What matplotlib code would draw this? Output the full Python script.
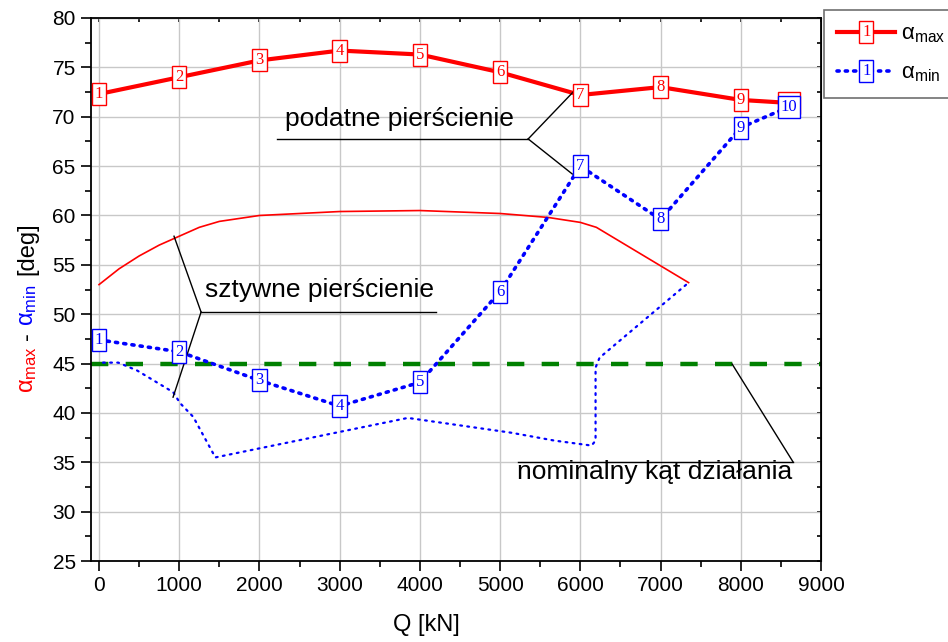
import matplotlib
matplotlib.use('Agg')
import matplotlib.pyplot as plt
import numpy as np
from matplotlib.ticker import MultipleLocator
from matplotlib.legend_handler import HandlerLine2D
from matplotlib.lines import Line2D
from matplotlib.text import Text

plt.rcParams['font.family'] = 'Liberation Sans'
plt.rcParams['mathtext.fontset'] = 'custom'
plt.rcParams['mathtext.rm'] = 'Liberation Sans'
plt.rcParams['mathtext.it'] = 'Liberation Sans'
plt.rcParams['mathtext.default'] = 'regular'

# podatne pierscienie - numbered points
q_pts = [0, 1000, 2000, 3000, 4000, 5000, 6000, 7000, 8000, 8600]
a_max = [72.3, 74.0, 75.7, 76.7, 76.3, 74.5, 72.2, 73.0, 71.7, 71.4]
a_min = [47.4, 46.2, 43.3, 40.7, 43.1, 52.3, 65.0, 59.6, 68.9, 71.0]
pt_labels = ['1', '2', '3', '4', '5', '6', '7', '8', '9', '10']

# sztywne pierscienie - thin curves
q_sz_max = [0, 250, 500, 750, 1000, 1250, 1500, 2000, 3000, 4000, 5000, 5600, 6000, 6200, 7350]
a_sz_max = [53.0, 54.6, 55.9, 57.0, 57.9, 58.8, 59.4, 60.0, 60.4, 60.5, 60.2, 59.8, 59.3, 58.8, 53.2]
q_sz_min = [50, 240, 475, 925, 1010, 1175, 1450, 3010, 3850, 5140, 5680, 6140, 6190, 6190, 6240, 7350]
a_sz_min = [45.1, 45.1, 44.3, 42.1, 41.0, 39.6, 35.5, 38.1, 39.5, 38.0, 37.2, 36.7, 37.2, 44.6, 45.6, 53.2]

alpha_nom = 45

fig = plt.figure(figsize=(9.48, 6.42), dpi=100)
ax = fig.add_axes([0.096, 0.126, 0.770, 0.846])

ax.grid(True, color='#c8c8c8', lw=1)
ax.set_axisbelow(True)

ax.plot([-100, 9000], [alpha_nom, alpha_nom], color='#008000', lw=3.2,
        linestyle=(0, (3.9, 3.9)), zorder=2)

ax.plot(q_sz_max, a_sz_max, color='red', lw=1.2, zorder=3)
ax.plot(q_sz_min, a_sz_min, color='blue', lw=1.6, linestyle=(0, (0.8, 2.4)),
        dash_capstyle='round', zorder=3)

ax.plot(q_pts, a_max, color='red', lw=3, zorder=4)
ax.plot(q_pts, a_min, color='blue', lw=2.6, linestyle=(0, (0.6, 1.7)),
        dash_capstyle='round', zorder=4)

box_kw = 'square,pad=0.18'
for q, v, s in zip(q_pts, a_max, pt_labels):
    ax.text(q, v, s, ha='center', va='center', color='red', fontsize=12,
            family='Liberation Serif', zorder=5,
            bbox=dict(boxstyle=box_kw, fc='white', ec='red', lw=1))
for q, v, s in zip(q_pts, a_min, pt_labels):
    ax.text(q, v, s, ha='center', va='center', color='blue', fontsize=12,
            family='Liberation Serif', zorder=6,
            bbox=dict(boxstyle=box_kw, fc='white', ec='blue', lw=1))

# annotations
lk = dict(color='black', lw=1, zorder=4)
ax.plot([2220, 5350], [67.75, 67.75], **lk)
ax.plot([5350, 5910], [67.75, 72.5], **lk)
ax.plot([5350, 5900], [67.75, 64.2], **lk)
ax.text(2320, 69.1, 'podatne pierścienie', fontsize=19, va='baseline', ha='left', zorder=4)

ax.plot([1272, 4202], [50.22, 50.22], **lk)
ax.plot([1272, 935], [50.22, 57.9], **lk)
ax.plot([1272, 923], [50.22, 41.6], **lk)
ax.text(1322, 51.74, 'sztywne pierścienie', fontsize=19, va='baseline', ha='left', zorder=4)

ax.plot([5224, 8653], [35.03, 35.03], **lk)
ax.plot([8653, 7893], [35.03, 44.95], **lk)
ax.text(6930, 33.3, 'nominalny kąt działania', fontsize=19, va='baseline', ha='center', zorder=4)

ax.set_xlim(-100, 9000)
ax.set_ylim(25, 80)
ax.set_xticks(np.arange(0, 9001, 1000))
ax.set_yticks(np.arange(25, 81, 5))
ax.xaxis.set_minor_locator(MultipleLocator(500))
ax.yaxis.set_minor_locator(MultipleLocator(2.5))
ax.tick_params(which='major', direction='out', length=7, width=1.2, labelsize=15, pad=4)
ax.tick_params(which='minor', direction='out', length=4, width=1.2)
for sp in ax.spines.values():
    sp.set_linewidth(1.3)

secx = ax.secondary_xaxis('top')
secx.set_xticks(np.arange(0, 9001, 1000))
secx.xaxis.set_minor_locator(MultipleLocator(500))
secx.tick_params(which='both', direction='in', length=3, width=1.2, labeltop=False)
secy = ax.secondary_yaxis('right')
secy.set_yticks(np.arange(25, 81, 5))
secy.yaxis.set_minor_locator(MultipleLocator(2.5))
secy.tick_params(which='both', direction='in', length=3, width=1.2, labelright=False)

ax.set_xlabel('Q [kN]', fontsize=17)
ax.xaxis.set_label_coords(0.46, -0.118)
ax.xaxis.label.set_va('center')


# legend with numbered boxes
class NumHandler(HandlerLine2D):
    def create_artists(self, legend, orig_handle, xdescent, ydescent, width, height, fontsize, trans):
        arts = super().create_artists(legend, orig_handle, xdescent, ydescent, width, height, fontsize, trans)
        c = orig_handle.get_color()
        t = Text(width / 2 - xdescent, height / 2 - ydescent, '1', ha='center', va='center',
                 color=c, fontsize=12, family='Liberation Serif', transform=trans,
                 bbox=dict(boxstyle=box_kw, fc='white', ec=c, lw=1))
        return list(arts) + [t]


h1 = Line2D([], [], color='red', lw=3)
h2 = Line2D([], [], color='blue', lw=2.6, linestyle=(0, (0.6, 1.7)), dash_capstyle='round')
leg = ax.legend([h1, h2], [r'$\alpha_{max}$', r'$\alpha_{min}$'],
                handler_map={h1: NumHandler(), h2: NumHandler()},
                loc='upper left', bbox_to_anchor=(824 / 948, 1 - 10 / 642),
                bbox_transform=fig.transFigure, borderaxespad=0, fontsize=16,
                handlelength=2.6, handletextpad=0.25, borderpad=0.6, labelspacing=0.8,
                fancybox=False, framealpha=1, edgecolor='#707070')
leg.get_frame().set_linewidth(1.2)

# multi-coloured y label
fig.canvas.draw()
rend = fig.canvas.get_renderer()
ypix = 642 - 393
pieces = [(r'$\alpha_{max}$', 'red', 6), ('-', 'black', 6), (r'$\alpha_{min}$', 'blue', 10), ('[deg]', 'black', 0)]
for s, c, gap in pieces:
    t = fig.text(33 / 948, ypix / 642, s, rotation=90, rotation_mode='anchor',
                 ha='left', va='baseline', color=c, fontsize=17)
    bb = t.get_window_extent(rend)
    ypix += bb.height + gap

fig.savefig('out.png', dpi=100)
